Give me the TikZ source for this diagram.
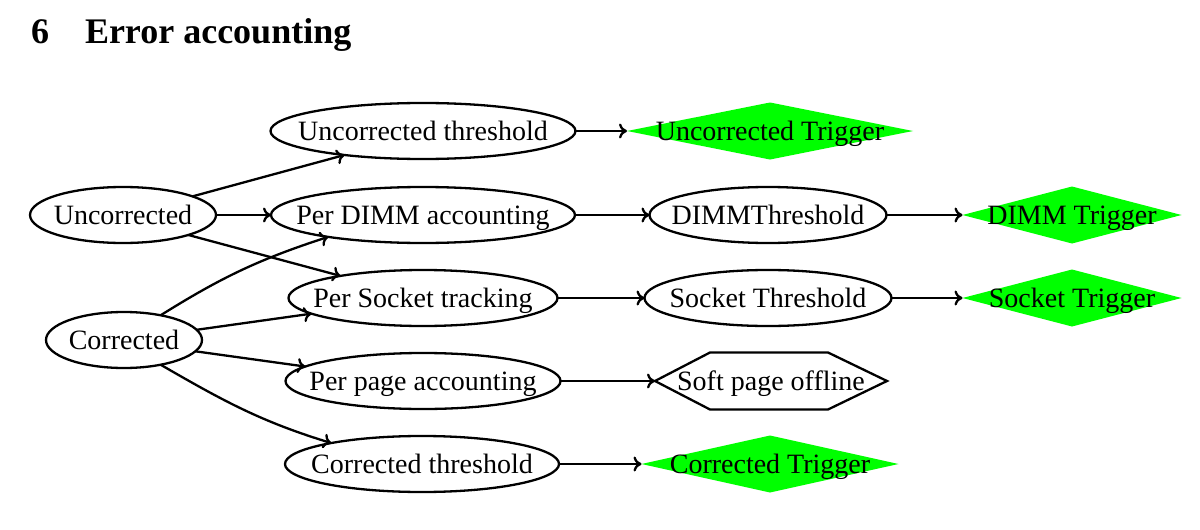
\documentclass[tikz,border=0pt]{standalone}
\usepackage{fontspec}
\setmainfont{Liberation Serif}
\usetikzlibrary{shapes.geometric,arrows.meta,calc}
\definecolor{trigfill}{RGB}{0,255,0}
\newcommand{\ztext}[1]{\makebox[0pt]{#1}}

\begin{document}
\begin{tikzpicture}[x=1pt, y=-1pt,
  every node/.style={font=\fontsize{28}{32}\selectfont, inner sep=0pt, outer sep=0pt,
    text height=19pt, text depth=0pt},
  oval/.style={ellipse, draw, line width=2.3pt, minimum height=56pt},
  trig/.style={diamond, fill=trigfill, minimum height=57pt},
  flow/.style={line width=2.3pt, -{To[length=8pt,width=15pt]}}]
  % Page frame (pixel units, y down)
  \useasboundingbox (0,0) rectangle (1200,530);

  % Heading
  \node[font=\fontsize{36}{40}\selectfont\bfseries, anchor=base west] (title) at (31,43)
    {6\quad Error accounting};

  % Sources
  \node[oval, minimum width=186pt] (unc) at (123,215) {\ztext{Uncorrected}};
  \node[oval, minimum width=156pt] (cor) at (124,340) {\ztext{Corrected}};

  % Accounting column
  \node[oval, minimum width=305pt] (uthr)  at (423,131) {\ztext{Uncorrected threshold}};
  \node[oval, minimum width=304pt] (pdimm) at (423,215) {\ztext{Per DIMM accounting}};
  \node[oval, minimum width=269pt] (psock) at (423,298) {\ztext{Per Socket tracking}};
  \node[oval, minimum width=275pt] (ppage) at (423,381) {\ztext{Per page accounting}};
  \node[oval, minimum width=274pt] (cthr)  at (422,464) {\ztext{Corrected threshold}};

  % Thresholds and actions
  \node[trig, minimum width=286pt] (utrig) at (770,131) {\ztext{Uncorrected Trigger}};
  \node[oval, minimum width=237pt] (dthr)  at (768,215) {\ztext{DIMMThreshold}};
  \node[oval, minimum width=247pt] (sthr)  at (768,298) {\ztext{Socket Threshold}};
  \node[minimum width=232pt, minimum height=57pt] (soft) at (771,381) {\ztext{Soft page offline}};
  \draw[line width=2.3pt] (soft.west) -- ($(soft.north west)+(55,0)$)
    -- ($(soft.north east)+(-59,0)$) -- (soft.east)
    -- ($(soft.south east)+(-59,0)$) -- ($(soft.south west)+(55,0)$) -- cycle;
  \node[trig, minimum width=257pt] (ctrig) at (770,464) {\ztext{Corrected Trigger}};

  % Triggers
  \node[trig, minimum width=219pt] (dtrig) at (1072,215) {\ztext{DIMM Trigger}};
  \node[trig, minimum width=219pt] (strig) at (1072,298) {\ztext{Socket Trigger}};

  % Fan out from the sources
  \draw[flow] (unc.15) -- (uthr.197);
  \draw[flow] (unc.east) -- (pdimm.west);
  \draw[flow] (unc.-17) -- (psock.165);
  \draw[flow] (cor.34) to[out=32, in=198] (pdimm.193);
  \draw[flow] (cor.8) -- (psock.188);
  \draw[flow] (cor.-9) -- (ppage.173);
  \draw[flow] (cor.-34) to[out=-30, in=163] (cthr.167);

  % Straight runs to the right
  \foreach \a/\b in {uthr/utrig, pdimm/dthr, dthr/dtrig, psock/sthr,
                     sthr/strig, ppage/soft, cthr/ctrig}{
    \draw[flow] (\a.east) -- (\b.west);
  }
\end{tikzpicture}
\end{document}
